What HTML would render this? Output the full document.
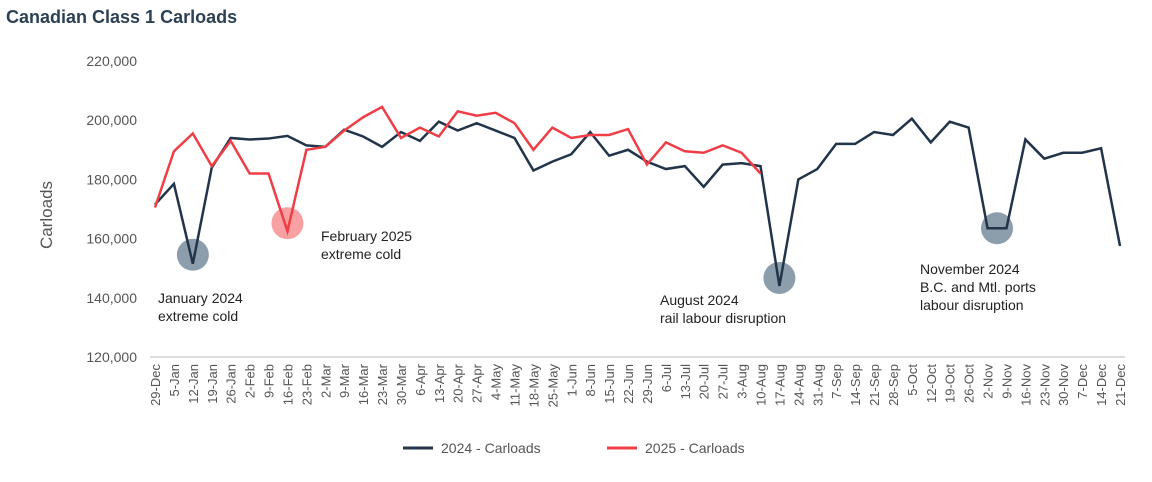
<!DOCTYPE html>
<html><head><meta charset="utf-8"><style>
body{margin:0;background:#fff;font-family:"Liberation Sans",sans-serif;}
svg text{font-family:"Liberation Sans",sans-serif;}
</style></head><body>
<svg id="c" width="1152" height="477">
<text x="6" y="23" font-size="18" font-weight="bold" fill="#2d4154">Canadian Class 1 Carloads</text>
<text transform="translate(52,215) rotate(-90)" text-anchor="middle" font-size="17" fill="#555">Carloads</text>
<g id="yt"></g><g id="xt"></g><g id="ann"></g><g id="lines"></g>
<g>
<line x1="403" y1="448" x2="433" y2="448" stroke="#22344a" stroke-width="3"/>
<text x="441" y="453" font-size="14" fill="#555">2024 - Carloads</text>
<line x1="607" y1="448" x2="637" y2="448" stroke="#ef3e46" stroke-width="3"/>
<text x="645" y="453" font-size="14" fill="#555">2025 - Carloads</text>
</g>
</svg>
<script>
const categories=["29-Dec","5-Jan","12-Jan","19-Jan","26-Jan","2-Feb","9-Feb","16-Feb","23-Feb","2-Mar","9-Mar","16-Mar","23-Mar","30-Mar","6-Apr","13-Apr","20-Apr","27-Apr","4-May","11-May","18-May","25-May","1-Jun","8-Jun","15-Jun","22-Jun","29-Jun","6-Jul","13-Jul","20-Jul","27-Jul","3-Aug","10-Aug","17-Aug","24-Aug","31-Aug","7-Sep","14-Sep","21-Sep","28-Sep","5-Oct","12-Oct","19-Oct","26-Oct","2-Nov","9-Nov","16-Nov","23-Nov","30-Nov","7-Dec","14-Dec","21-Dec"];
const series2024=[171500,178500,151500,184000,194000,193500,193800,194700,191500,191000,196800,194500,191000,196000,193000,199500,196500,199000,196500,194000,183000,186000,188500,196000,188000,190000,186000,183500,184500,177500,185000,185500,184500,144000,180000,183500,192000,192000,196000,195000,200500,192500,199500,197500,163500,163500,193500,187000,189000,189000,190500,157500];
const series2025=[170500,189500,195500,184500,193000,182000,182000,162500,190000,191000,196500,201000,204500,194000,197500,194500,203000,201500,202500,199000,190000,197500,194000,195000,195000,197000,185000,192500,189500,189000,191500,189000,182000];
const yTicks=[120000,140000,160000,180000,200000,220000];
const annotations=[{i:2,s:"2024",c:"#8c9dab",t:["January 2024","extreme cold"],tx:158,ty:303},{i:7,s:"2025",c:"#f9a0a3",t:["February 2025","extreme cold"],tx:321,ty:241},{i:33,s:"2024",c:"#8c9dab",t:["August 2024","rail labour disruption"],tx:660,ty:305},{i:44.5,s:"2024",c:"#8c9dab",t:["November 2024","B.C. and Mtl. ports","labour disruption"],tx:920,ty:274}];
const NS="http://www.w3.org/2000/svg";
const x0=155,x1=1120,yTop=61,yBot=357;
const X=i=>x0+(x1-x0)*i/(categories.length-1);
const Y=v=>yBot-(v-120000)/(220000-120000)*(yBot-yTop);
function mk(t,a,p){const e=document.createElementNS(NS,t);for(const k in a)e.setAttribute(k,a[k]);p.appendChild(e);return e;}
const svg=document.getElementById('c');
const yt=document.getElementById('yt');
yTicks.forEach(v=>{const t=mk('text',{x:137,y:Y(v)+5,'text-anchor':'end','font-size':14,fill:'#555'},yt);


t.textContent=v.toLocaleString('en-US');});
const ax=mk('line',{x1:150,y1:yBot,x2:1125,y2:yBot,stroke:'#bbb','stroke-width':1},yt);


const xt=document.getElementById('xt');
categories.forEach((c,i)=>{const t=mk('text',{transform:`translate(${X(i)+5},364) rotate(-90)`,'text-anchor':'end','font-size':13,fill:'#555'},xt);


t.textContent=c;});
const ann=document.getElementById('ann');
annotations.forEach(a=>{const arr=a.s==="2024"?series2024:series2025;
const lo=Math.floor(a.i),hi=Math.ceil(a.i);const v=(arr[lo]+arr[hi])/2;
const ci=mk('circle',{cx:X(a.i),cy:Y(v)+(lo===hi?-8:0)+ (a.i===2?-1:0),r:16,fill:a.c},ann);


a.t.forEach((s,k)=>{const t=mk('text',{x:a.tx,y:a.ty+k*18,'font-size':14,fill:'#222'},ann);


t.textContent=s;});});
const lines=document.getElementById('lines');
[[series2024,'#22344a','line-2024'],[series2025,'#ef3e46','line-2025']].forEach(([s,col,n])=>{
const p=mk('polyline',{points:s.map((v,i)=>X(i)+','+Y(v)).join(' '),fill:'none',stroke:col,'stroke-width':2.5,'stroke-linejoin':'miter'},lines);

});
// draw 2025 above 2024 except circles under lines
</script>
</body></html>
